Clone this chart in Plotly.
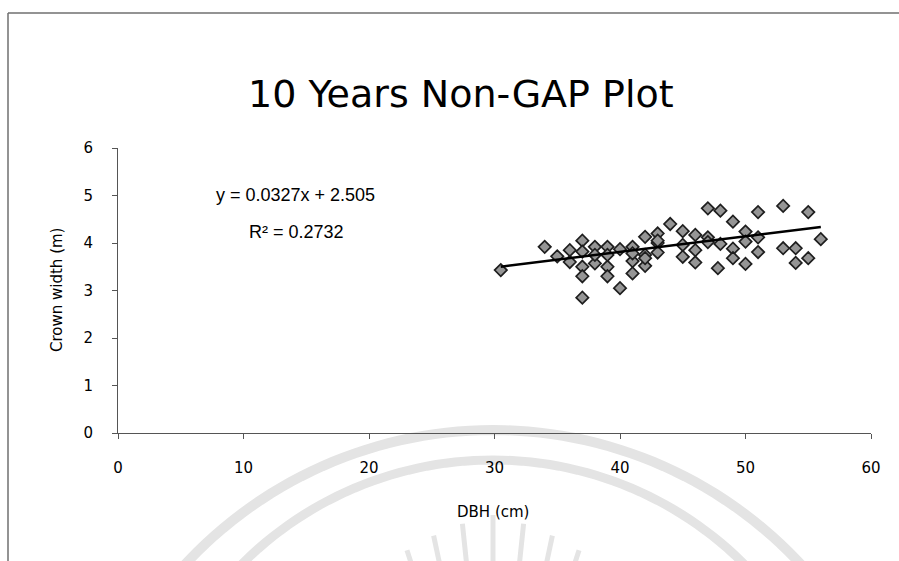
import numpy as np
import plotly.graph_objects as go

# ---- data ----
dbh = [30.5, 34, 35, 36, 36, 37, 37, 37, 37, 37,
       38, 38, 38, 39, 39, 39, 39, 40, 40, 41,
       41, 41, 41, 42, 42, 42, 42, 43, 43, 43,
       43, 44, 45, 45, 45, 46, 46, 46, 47, 47,
       47, 47.8, 48, 48, 49, 49, 49, 50, 50, 50,
       51, 51, 51, 53, 53, 54, 54, 55, 55, 56]
crown = [3.43, 3.92, 3.72, 3.85, 3.60, 4.05, 3.82, 3.50, 3.30, 2.85,
         3.92, 3.57, 3.75, 3.92, 3.50, 3.30, 3.75, 3.87, 3.05, 3.92,
         3.62, 3.36, 3.78, 4.13, 3.75, 3.52, 3.68, 4.20, 4.00, 3.80,
         4.05, 4.40, 4.25, 3.96, 3.71, 4.17, 3.85, 3.59, 4.73, 4.12,
         4.02, 3.47, 4.68, 3.98, 4.45, 3.88, 3.68, 4.24, 4.03, 3.56,
         4.65, 4.12, 3.81, 4.78, 3.89, 3.89, 3.58, 4.65, 3.68, 4.08]
slope = 0.0327
intercept = 2.505
r_squared = 0.2732
x_ticks = [0, 10, 20, 30, 40, 50, 60]
y_ticks = [0, 1, 2, 3, 4, 5, 6]

# ---- layout geometry ----
W, H = 899, 561
ML, MR, MT, MB = 118, 28, 148, 128
PW, PH = W - ML - MR, H - MT - MB


def px(x):
    return (x - ML) / PW


def py(y):
    return (H - MB - y) / PH


fig = go.Figure()

tx = np.array([min(dbh), max(dbh)])
fig.add_trace(go.Scatter(
    x=dbh, y=crown, mode="markers",
    marker=dict(symbol="diamond", size=9.5, color="#959595",
                line=dict(color="#1e1e1e", width=1.7)),
    showlegend=False, hoverinfo="x+y"))
fig.add_trace(go.Scatter(
    x=tx, y=slope * tx + intercept, mode="lines",
    line=dict(color="#000000", width=2.5), showlegend=False))

shapes = []
# outer chart border (left & top visible)
shapes.append(dict(type="line", xref="paper", yref="paper",
                   x0=px(8), x1=px(8), y0=py(13), y1=py(H + 5),
                   line=dict(color="#6f6f6f", width=1.5)))
shapes.append(dict(type="line", xref="paper", yref="paper",
                   x0=px(8), x1=px(W + 5), y0=py(13), y1=py(13),
                   line=dict(color="#6f6f6f", width=1.5)))

# faint watermark arcs
def arc_path(cx, cy, r, a0, a1, n=60):
    pts = []
    for i in range(n + 1):
        a = np.radians(a0 + (a1 - a0) * i / n)
        x = cx + r * np.sin(a)
        y = cy - r * np.cos(a)
        pts.append((px(x), py(y)))
    return "M " + " L ".join(f"{a:.5f},{b:.5f}" for a, b in pts)

WM = "#e4e4e4"
shapes.append(dict(type="path", xref="paper", yref="paper", layer="below",
                   path=arc_path(493, 850, 420, -48, 48),
                   line=dict(color=WM, width=10)))
shapes.append(dict(type="path", xref="paper", yref="paper", layer="below",
                   path=arc_path(493, 815, 355, -46, 46),
                   line=dict(color=WM, width=9)))
for ang in [-30, -24, -18, -12, -6, 0, 6, 12, 18, 24, 30]:
    a = np.radians(ang)
    r0, r1 = 300 - abs(ang) * 1.2, 240
    shapes.append(dict(type="line", xref="paper", yref="paper", layer="below",
                       x0=px(493 + r0 * np.sin(a)), y0=py(815 - r0 * np.cos(a)),
                       x1=px(493 + r1 * np.sin(a)), y1=py(815 - r1 * np.cos(a)),
                       line=dict(color=WM, width=5)))

annotations = [
    dict(text="10 Years Non-GAP Plot", xref="paper", yref="paper",
         x=px(461), y=py(94), xanchor="center", yanchor="middle",
         showarrow=False, font=dict(family="DejaVu Sans", size=38, color="#000")),
    dict(text=f"y = {slope}x + {intercept}", xref="paper", yref="paper",
         x=px(295), y=py(195), xanchor="center", yanchor="middle",
         showarrow=False, font=dict(family="Liberation Sans", size=18, color="#000")),
    dict(text=f"R² = {r_squared}", xref="paper", yref="paper",
         x=px(296), y=py(232), xanchor="center", yanchor="middle",
         showarrow=False, font=dict(family="Liberation Sans", size=18, color="#000")),
    dict(text="Crown width (m)", xref="paper", yref="paper",
         x=px(57), y=py(290), xanchor="center", yanchor="middle", textangle=-90,
         showarrow=False, font=dict(family="DejaVu Sans", size=15, color="#000")),
    dict(text="DBH (cm)", xref="paper", yref="paper",
         x=px(493), y=py(512), xanchor="center", yanchor="middle",
         showarrow=False, font=dict(family="DejaVu Sans", size=15, color="#000")),
]

axis_common = dict(showgrid=False, zeroline=False, showline=True,
                   linecolor="#555555", linewidth=1,
                   ticks="outside", ticklen=5, tickcolor="#555555",
                   tickfont=dict(family="DejaVu Sans", size=15, color="#000"))

fig.update_layout(
    width=W, height=H,
    margin=dict(l=ML, r=MR, t=MT, b=MB, autoexpand=False),
    paper_bgcolor="white", plot_bgcolor="white",
    xaxis=dict(range=[0, 60], tickvals=x_ticks, ticklabelstandoff=16,
               **axis_common),
    yaxis=dict(range=[0, 6], tickvals=y_ticks, ticklabelstandoff=16,
               **axis_common),
    shapes=shapes, annotations=annotations, showlegend=False,
)

fig.write_html("out.html", config={"displayModeBar": False},
               post_script="document.body.style.margin='0';document.body.style.overflow='hidden';")
